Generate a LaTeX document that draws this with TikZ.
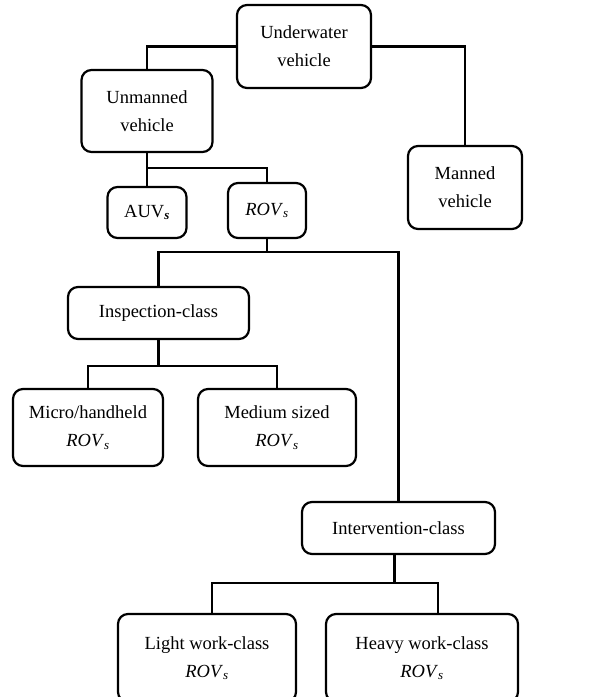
\documentclass[tikz,border=0pt]{standalone}
\usepackage{fontspec}
\setmainfont{Liberation Serif}
\usepackage{tikz}
\usetikzlibrary{positioning,calc}
\newcommand{\rovsub}{\textit{ROV}\textsubscript{\textit{s}}}
\tikzset{
  vehiclebox/.style={draw=black,line width=2.2pt,rounded corners=10pt,align=center,
    inner sep=0pt,font={\fontsize{18.5}{28}\selectfont}},
  treeline/.style={draw=black,line width=2.2pt}
}
\begin{document}
\begin{tikzpicture}[x=1pt,y=-1pt]
  \useasboundingbox (0,0) rectangle (593,697);
  \clip (0,0) rectangle (593,697);
  \node[vehiclebox,minimum width=134pt,minimum height=83pt] (uv) at (304,46.5) {Underwater\\vehicle};
  \node[vehiclebox,minimum width=131pt,minimum height=82pt] (unm) at (147,111) {Unmanned\\vehicle};
  \node[vehiclebox,minimum width=114pt,minimum height=83pt] (man) at (465,187.5) {Manned\\vehicle};
  \node[vehiclebox,minimum width=79pt,minimum height=51pt] (auv) at (147,212.5) {AUV\textsubscript{\textbf{\textit{s}}}};
  \node[vehiclebox,minimum width=78pt,minimum height=55pt] (rov) at (267,210.5) {\rovsub};
  \node[vehiclebox,minimum width=181pt,minimum height=52pt] (insp) at (158.5,313) {Inspection-class};
  \node[vehiclebox,minimum width=150pt,minimum height=77pt] (micro) at (88,427.5) {Micro/handheld\\\rovsub};
  \node[vehiclebox,minimum width=158pt,minimum height=77pt] (med) at (277,427.5) {Medium sized\\\rovsub};
  \node[vehiclebox,minimum width=193pt,minimum height=52pt] (interv) at (398.5,528) {Intervention-class};
  \node[vehiclebox,minimum width=178pt,minimum height=88pt] (light) at (207,658) {Light work-class\\\rovsub};
  \node[vehiclebox,minimum width=192pt,minimum height=88pt] (heavy) at (422,658) {Heavy work-class\\\rovsub};
  \draw[treeline] (uv.west) -| (unm.north);
  \draw[treeline] (uv.east) -| (man.north);
  \draw[treeline] (unm.south) -- (auv.north);
  \draw[treeline] (unm.south) -- ++(0,15) coordinate (unmbus) -| (rov.north);
  \draw[treeline] (rov.south) -- ++(0,13) coordinate (rovbus);
  \draw[treeline] (insp.north) |- (rovbus) -| (interv.north);
  \draw[treeline] (insp.south) -- ++(0,26) coordinate (inspbus);
  \draw[treeline] (micro.north) |- (inspbus) -| (med.north);
  \draw[treeline] ([xshift=-4pt]interv.south) -- ++(0,28) coordinate (intbus);
  \draw[treeline] ([xshift=5pt]light.north) |- (intbus) -| ([xshift=16pt]heavy.north);
\end{tikzpicture}
\end{document}
